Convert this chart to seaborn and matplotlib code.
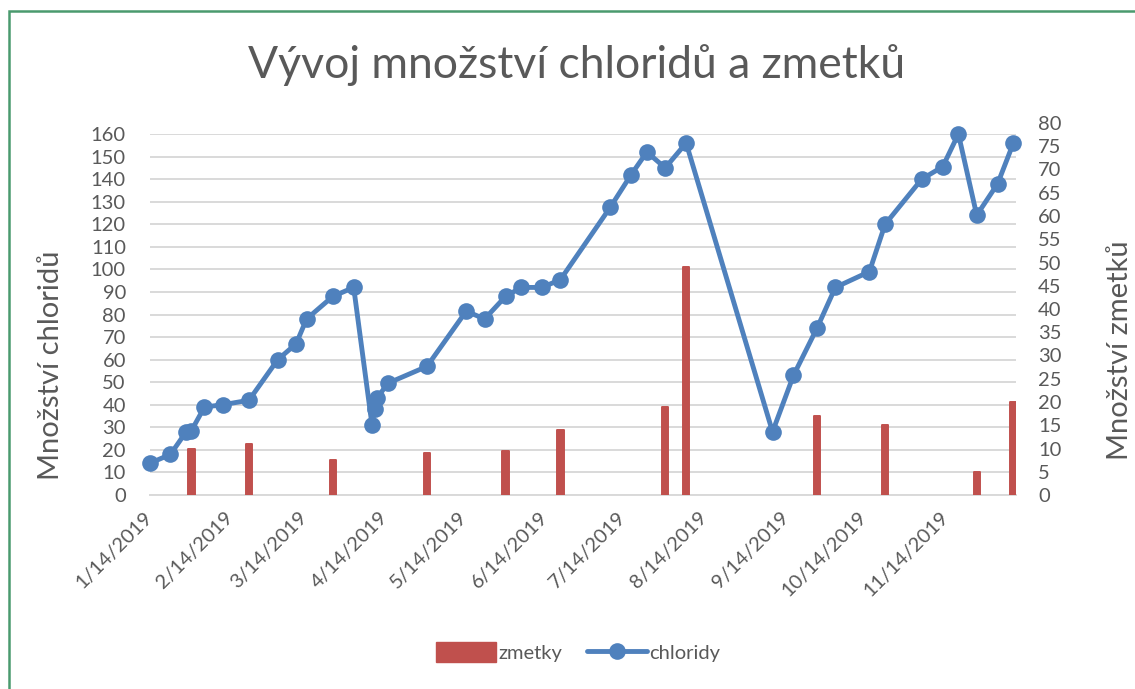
import pandas as pd
import matplotlib
matplotlib.use("Agg")
import matplotlib.pyplot as plt
import matplotlib.dates as mdates
import seaborn as sns
from matplotlib.lines import Line2D
from matplotlib.patches import Patch, Rectangle

# chloridy (left axis)
chloride_dates = [
    "2019-01-14", "2019-01-22", "2019-01-28", "2019-01-30", "2019-02-04",
    "2019-02-11", "2019-02-21", "2019-03-04", "2019-03-11", "2019-03-15",
    "2019-03-25", "2019-04-02", "2019-04-09", "2019-04-10", "2019-04-11",
    "2019-04-15", "2019-04-30", "2019-05-15", "2019-05-22", "2019-05-30",
    "2019-06-05", "2019-06-13", "2019-06-20", "2019-07-09", "2019-07-17",
    "2019-07-23", "2019-07-30", "2019-08-07", "2019-09-09", "2019-09-17",
    "2019-09-26", "2019-10-03", "2019-10-16", "2019-10-22", "2019-11-05",
    "2019-11-13", "2019-11-19", "2019-11-26", "2019-12-04", "2019-12-10",
]
chloride_values = [
    14, 18, 28, 28.5, 39,
    40, 42, 60, 67, 78,
    88, 92, 31, 38, 43,
    49.5, 57, 81.5, 78, 88,
    92, 92, 95.5, 127.5, 142,
    152, 145, 156, 28, 53,
    74, 92, 99, 120, 140,
    145.5, 160, 124, 138, 156,
]

# zmetky (right axis)
reject_dates = [
    "2019-01-30", "2019-02-21", "2019-03-25", "2019-04-30", "2019-05-30",
    "2019-06-20", "2019-07-30", "2019-08-07", "2019-09-26", "2019-10-22",
    "2019-11-26", "2019-12-10",
]
reject_values = [10, 11, 7.5, 9, 9.5, 14, 19, 49, 17, 15, 5, 20]

tick_dates = [
    "2019-01-14", "2019-02-14", "2019-03-14", "2019-04-14", "2019-05-14",
    "2019-06-14", "2019-07-14", "2019-08-14", "2019-09-14", "2019-10-14",
    "2019-11-14",
]
tick_labels = [
    "1/14/2019", "2/14/2019", "3/14/2019", "4/14/2019", "5/14/2019",
    "6/14/2019", "7/14/2019", "8/14/2019", "9/14/2019", "10/14/2019",
    "11/14/2019",
]

line_df = pd.DataFrame({"datum": pd.to_datetime(chloride_dates), "chloridy": chloride_values})
bar_df = pd.DataFrame({"datum": pd.to_datetime(reject_dates), "zmetky": reject_values})

sns.set_theme(style="white")
plt.rcParams["font.family"] = ["Lato", "DejaVu Sans"]

TXT = "#595959"
GRID = "#d9d9d9"
BLUE = "#4f81bd"
RED = "#c0504d"

W_PX, H_PX = 1135, 689
fig = plt.figure(figsize=(W_PX / 100, H_PX / 100), dpi=100)

left = 149.5 / W_PX
bottom = 1 - 495 / H_PX
width = (1016 - 149.5) / W_PX
height = (495 - 134) / H_PX
height2 = (495 - 123) / H_PX

# base axes: left scale + gridlines
ax = fig.add_axes([left, bottom, width, height])
ax.set_ylim(0, 160)
ax.set_yticks(range(0, 161, 10))
ax.grid(axis="y", color=GRID, linewidth=1.4)
ax.grid(axis="x", visible=False)
for s in ["top", "left", "right"]:
    ax.spines[s].set_visible(False)
ax.spines["bottom"].set_color(GRID)
ax.spines["bottom"].set_linewidth(1.4)
ax.tick_params(axis="y", length=0, pad=17, labelsize=14.5, labelcolor=TXT)
ax.tick_params(axis="x", length=0, pad=14, labelsize=14.5, labelcolor=TXT)

# bars on the secondary axis
ax2 = fig.add_axes([left, bottom, width, height2], sharex=ax)
ax2.patch.set_visible(False)
ax2.bar(bar_df["datum"], bar_df["zmetky"], width=2.4, color=RED,
        edgecolor=RED, linewidth=1.4, joinstyle="round", zorder=2)
ax2.set_ylim(0, 80)
ax2.set_yticks(range(0, 81, 5))
ax2.yaxis.tick_right()
ax2.grid(False)
for s in ax2.spines.values():
    s.set_visible(False)
ax2.tick_params(axis="y", length=0, pad=16, labelsize=14.5, labelcolor=TXT)
ax2.tick_params(axis="x", length=0, labelbottom=False)

# line on top
ax3 = fig.add_axes([left, bottom, width, height], sharex=ax, sharey=ax)
sns.lineplot(data=line_df, x="datum", y="chloridy", ax=ax3, color=BLUE,
             linewidth=3.5, marker="o", markersize=12, markeredgewidth=0)
for ln in ax3.lines:
    ln.set_clip_on(False)
ax3.axis("off")

x0 = mdates.date2num(pd.Timestamp("2019-01-14"))
x1 = mdates.date2num(pd.Timestamp("2019-12-11"))
ax.set_xlim(x0, x1)
ax.set_xticks([mdates.date2num(pd.Timestamp(d)) for d in tick_dates])
ax.set_xticklabels(tick_labels, rotation=45, ha="right", va="center",
                   rotation_mode="anchor")
ax.set_ylim(0, 160)

fig.text(577 / W_PX, 1 - 65 / H_PX, "Vývoj množství chloridů a zmetků",
         ha="center", va="center", fontsize=32, color=TXT)
fig.text(51 / W_PX, 1 - 365 / H_PX, "Množství chloridů", rotation=90,
         ha="center", va="center", fontsize=21, color=TXT)
fig.text(1120 / W_PX, 1 - 350 / H_PX, "Množství zmetků", rotation=90,
         ha="center", va="center", fontsize=21, color=TXT)

handles = [
    Patch(facecolor=RED, edgecolor=RED, label="zmetky"),
    Line2D([0], [0], color=BLUE, linewidth=3.5, marker="o", markersize=12,
           markeredgewidth=0, label="chloridy"),
]
fig.legend(handles=handles, loc="center", bbox_to_anchor=(578 / W_PX, 1 - 652 / H_PX),
           ncol=2, frameon=False, fontsize=14.5, handlelength=3, handleheight=1.1,
           handletextpad=0.1, columnspacing=1.2, labelcolor=TXT)

# chart border
fig.patches.append(Rectangle((9 / W_PX, -0.1), 1.2, (H_PX - 11) / H_PX + 0.1,
                             transform=fig.transFigure, fill=False,
                             edgecolor="#4a9a6e", linewidth=1.8))

fig.savefig("out.png", dpi=100)
